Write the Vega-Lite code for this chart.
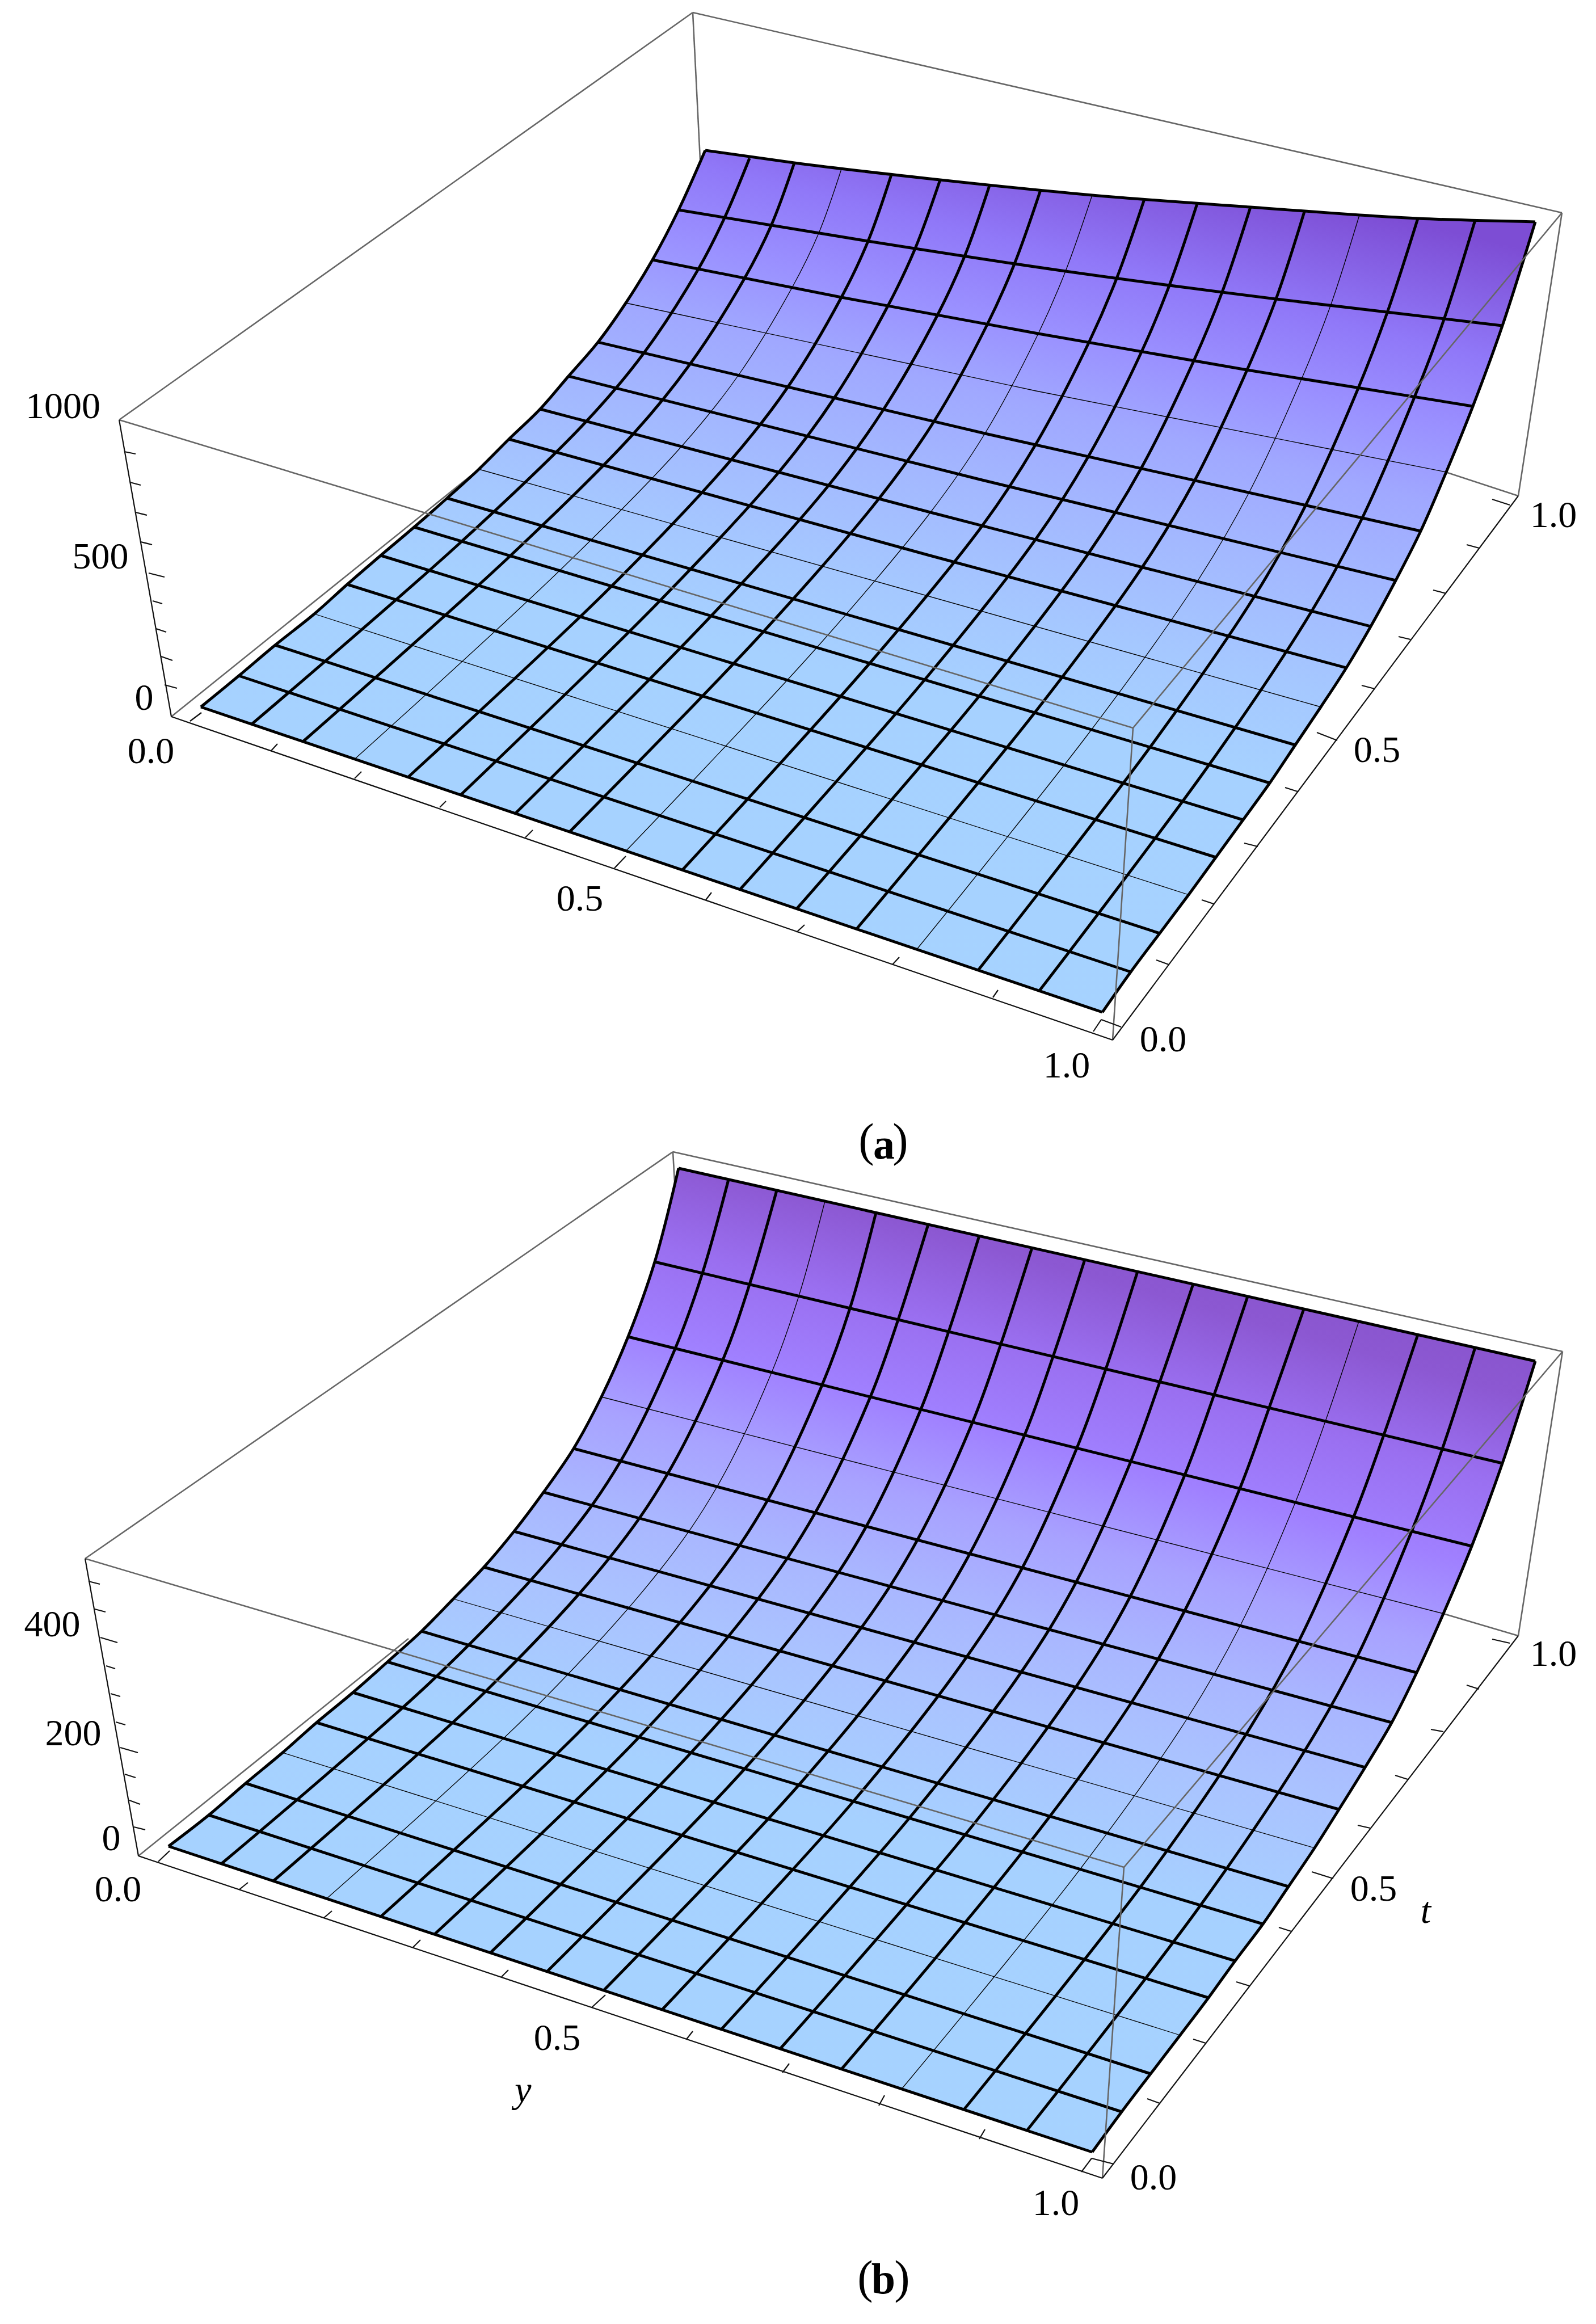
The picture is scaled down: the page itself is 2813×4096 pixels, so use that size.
{"$schema":"https://vega.github.io/schema/vega-lite/v6.json","width":2813,"height":4096,"padding":0,"autosize":{"type":"none"},"background":"white","config":{"view":{"stroke":null}},
"datasets":{
"grayBack":[
{"x":210,"y":740,"x2":1221,"y2":22},{"x":1221,"y":22,"x2":2753,"y2":375},{"x":1221,"y":22,"x2":1234,"y2":281},{"x":2753,"y":375,"x2":2676,"y2":874},{"x":302,"y":1263,"x2":844,"y2":827},{"x":2676,"y":874,"x2":2530,"y2":826},
{"x":150,"y":2747,"x2":1186,"y2":2030},{"x":1186,"y":2030,"x2":2754,"y2":2382},{"x":1186,"y":2030,"x2":1190,"y2":2100},{"x":2754,"y":2382,"x2":2676,"y2":2883},{"x":244,"y":3271,"x2":720,"y2":2888},{"x":2676,"y":2883,"x2":2530,"y2":2840}],
"grayFront":[
{"x":210,"y":740,"x2":1997,"y2":1283},{"x":1997,"y":1283,"x2":2753,"y2":375},{"x":1997,"y":1283,"x2":1961,"y2":1833},
{"x":150,"y":2747,"x2":1981,"y2":3291},{"x":1981,"y":3291,"x2":2754,"y2":2382},{"x":1981,"y":3291,"x2":1943,"y2":3839}],
"axes":[
{"x":210,"y":740,"x2":302,"y2":1263},{"x":302,"y":1263,"x2":1961,"y2":1833},{"x":1961,"y":1833,"x2":2676,"y2":874},
{"x":219,"y":796,"x2":239,"y2":800},{"x":229,"y":850,"x2":248,"y2":855},{"x":239,"y":903,"x2":259,"y2":908},{"x":248,"y":955,"x2":268,"y2":960},{"x":262,"y":1010,"x2":290,"y2":1017},{"x":269,"y":1059,"x2":286,"y2":1064},{"x":275,"y":1108,"x2":293,"y2":1114},{"x":284,"y":1157,"x2":304,"y2":1164},{"x":290,"y":1207,"x2":312,"y2":1213},
{"x":335,"y":1271,"x2":355,"y2":1256},{"x":478,"y":1323,"x2":489,"y2":1311},{"x":625,"y":1372,"x2":637,"y2":1360},{"x":775,"y":1423,"x2":786,"y2":1412},{"x":926,"y":1476,"x2":939,"y2":1463},{"x":1083,"y":1530,"x2":1103,"y2":1509},{"x":1244,"y":1586,"x2":1254,"y2":1573},{"x":1404,"y":1643,"x2":1418,"y2":1630},{"x":1573,"y":1700,"x2":1585,"y2":1687},{"x":1750,"y":1758,"x2":1759,"y2":1745},{"x":1927,"y":1818,"x2":1941,"y2":1797},
{"x":1976,"y":1810,"x2":1941,"y2":1797},{"x":2060,"y":1700,"x2":2038,"y2":1692},{"x":2139,"y":1593,"x2":2118,"y2":1586},{"x":2217,"y":1492,"x2":2193,"y2":1486},{"x":2287,"y":1395,"x2":2265,"y2":1388},{"x":2357,"y":1305,"x2":2321,"y2":1291},{"x":2423,"y":1214,"x2":2400,"y2":1208},{"x":2486,"y":1127,"x2":2465,"y2":1122},{"x":2549,"y":1046,"x2":2526,"y2":1040},{"x":2607,"y":966,"x2":2585,"y2":960},{"x":2661,"y":890,"x2":2630,"y2":880},
{"x":150,"y":2747,"x2":244,"y2":3271},{"x":244,"y":3271,"x2":1943,"y2":3839},{"x":1943,"y":3839,"x2":2676,"y2":2883},
{"x":156,"y":2787,"x2":176,"y2":2792},{"x":167,"y":2836,"x2":186,"y2":2841},{"x":177,"y":2886,"x2":207,"y2":2895},{"x":187,"y":2936,"x2":203,"y2":2941},{"x":195,"y":2985,"x2":212,"y2":2990},{"x":204,"y":3035,"x2":221,"y2":3040},{"x":212,"y":3080,"x2":243,"y2":3089},{"x":220,"y":3127,"x2":239,"y2":3133},{"x":228,"y":3173,"x2":247,"y2":3180},{"x":236,"y":3220,"x2":256,"y2":3225},
{"x":279,"y":3281,"x2":299,"y2":3262},{"x":422,"y":3330,"x2":437,"y2":3318},{"x":571,"y":3380,"x2":585,"y2":3368},{"x":728,"y":3432,"x2":741,"y2":3419},{"x":884,"y":3484,"x2":896,"y2":3472},{"x":1043,"y":3538,"x2":1067,"y2":3516},{"x":1210,"y":3594,"x2":1221,"y2":3580},{"x":1379,"y":3653,"x2":1391,"y2":3637},{"x":1549,"y":3711,"x2":1559,"y2":3693},{"x":1726,"y":3770,"x2":1736,"y2":3753},{"x":1906,"y":3828,"x2":1924,"y2":3804},
{"x":1963,"y":3814,"x2":1924,"y2":3804},{"x":2044,"y":3707,"x2":2022,"y2":3699},{"x":2125,"y":3601,"x2":2103,"y2":3594},{"x":2202,"y":3500,"x2":2179,"y2":3493},{"x":2276,"y":3404,"x2":2254,"y2":3397},{"x":2350,"y":3311,"x2":2312,"y2":3299},{"x":2415,"y":3222,"x2":2393,"y2":3217},{"x":2481,"y":3136,"x2":2459,"y2":3129},{"x":2544,"y":3052,"x2":2522,"y2":3048},{"x":2607,"y":2977,"x2":2585,"y2":2970},{"x":2661,"y":2896,"x2":2630,"y2":2889}],
"outline":[
{"p":"a","n":0,"x":354,"y":1246},{"p":"a","n":1,"x":1943,"y":1784},{"p":"a","n":2,"x":1993,"y":1713},{"p":"a","n":3,"x":2044,"y":1645},{"p":"a","n":4,"x":2095,"y":1577},{"p":"a","n":5,"x":2143,"y":1511},{"p":"a","n":6,"x":2191,"y":1445},{"p":"a","n":7,"x":2238,"y":1380},{"p":"a","n":8,"x":2283,"y":1313},{"p":"a","n":9,"x":2328,"y":1246},{"p":"a","n":10,"x":2373,"y":1177},{"p":"a","n":11,"x":2416,"y":1104},{"p":"a","n":12,"x":2460,"y":1023},{"p":"a","n":13,"x":2504,"y":936},{"p":"a","n":14,"x":2549,"y":832},{"p":"a","n":15,"x":2596,"y":716},{"p":"a","n":16,"x":2648,"y":574},{"p":"a","n":17,"x":2706,"y":391},
{"p":"a","n":18,"x":2499,"y":385},{"p":"a","n":19,"x":2299,"y":373},{"p":"a","n":20,"x":2110,"y":359},{"p":"a","n":21,"x":1925,"y":344},{"p":"a","n":22,"x":1744,"y":327},{"p":"a","n":23,"x":1571,"y":308},{"p":"a","n":24,"x":1400,"y":287},{"p":"a","n":25,"x":1243,"y":265},
{"p":"a","n":26,"x":1196,"y":370},{"p":"a","n":27,"x":1150,"y":458},{"p":"a","n":28,"x":1103,"y":534},{"p":"a","n":29,"x":1054,"y":603},{"p":"a","n":30,"x":1002,"y":663},{"p":"a","n":31,"x":952,"y":721},{"p":"a","n":32,"x":897,"y":774},{"p":"a","n":33,"x":844,"y":827},{"p":"a","n":34,"x":788,"y":878},{"p":"a","n":35,"x":730,"y":929},{"p":"a","n":36,"x":671,"y":979},{"p":"a","n":37,"x":612,"y":1030},{"p":"a","n":38,"x":554,"y":1082},{"p":"a","n":39,"x":485,"y":1137},{"p":"a","n":40,"x":421,"y":1191},
{"p":"b","n":0,"x":297,"y":3254},{"p":"b","n":1,"x":1925,"y":3793},{"p":"b","n":2,"x":1977,"y":3722},{"p":"b","n":3,"x":2028,"y":3655},{"p":"b","n":4,"x":2080,"y":3587},{"p":"b","n":5,"x":2130,"y":3521},{"p":"b","n":6,"x":2177,"y":3456},{"p":"b","n":7,"x":2226,"y":3391},{"p":"b","n":8,"x":2271,"y":3325},{"p":"b","n":9,"x":2317,"y":3257},{"p":"b","n":10,"x":2360,"y":3189},{"p":"b","n":11,"x":2406,"y":3115},{"p":"b","n":12,"x":2453,"y":3036},{"p":"b","n":13,"x":2497,"y":2948},{"p":"b","n":14,"x":2544,"y":2844},{"p":"b","n":15,"x":2594,"y":2725},{"p":"b","n":16,"x":2648,"y":2579},{"p":"b","n":17,"x":2706,"y":2399},{"p":"b","n":18,"x":1196,"y":2059},
{"p":"b","n":19,"x":1154,"y":2224},{"p":"b","n":20,"x":1107,"y":2356},{"p":"b","n":21,"x":1060,"y":2462},{"p":"b","n":22,"x":1011,"y":2553},{"p":"b","n":23,"x":958,"y":2630},{"p":"b","n":24,"x":906,"y":2699},{"p":"b","n":25,"x":853,"y":2762},{"p":"b","n":26,"x":799,"y":2818},{"p":"b","n":27,"x":743,"y":2875},{"p":"b","n":28,"x":683,"y":2929},{"p":"b","n":29,"x":622,"y":2983},{"p":"b","n":30,"x":558,"y":3036},{"p":"b","n":31,"x":498,"y":3089},{"p":"b","n":32,"x":433,"y":3143},{"p":"b","n":33,"x":368,"y":3199}],
"cross":[
{"p":"a","j":0,"n":0,"x":354,"y":1246},{"p":"a","j":0,"n":1,"x":1943,"y":1784},
{"p":"a","j":1,"n":0,"x":421,"y":1191},{"p":"a","j":1,"n":1,"x":1993,"y":1713},
{"p":"a","j":2,"n":0,"x":485,"y":1137},{"p":"a","j":2,"n":1,"x":2044,"y":1645},
{"p":"a","j":3,"n":0,"x":554,"y":1082},{"p":"a","j":3,"n":1,"x":2095,"y":1577},
{"p":"a","j":4,"n":0,"x":612,"y":1030},{"p":"a","j":4,"n":1,"x":2143,"y":1511},
{"p":"a","j":5,"n":0,"x":671,"y":979},{"p":"a","j":5,"n":1,"x":2191,"y":1445},
{"p":"a","j":6,"n":0,"x":730,"y":929},{"p":"a","j":6,"n":1,"x":2238,"y":1380},
{"p":"a","j":7,"n":0,"x":788,"y":878},{"p":"a","j":7,"n":1,"x":2283,"y":1313},
{"p":"a","j":8,"n":0,"x":844,"y":827},{"p":"a","j":8,"n":1,"x":2328,"y":1246},
{"p":"a","j":9,"n":0,"x":897,"y":774},{"p":"a","j":9,"n":1,"x":1635,"y":978},{"p":"a","j":9,"n":2,"x":2373,"y":1177},
{"p":"a","j":10,"n":0,"x":952,"y":721},{"p":"a","j":10,"n":1,"x":1640,"y":903},{"p":"a","j":10,"n":2,"x":2416,"y":1104},
{"p":"a","j":11,"n":0,"x":1002,"y":663},{"p":"a","j":11,"n":1,"x":1731,"y":846},{"p":"a","j":11,"n":2,"x":2460,"y":1023},
{"p":"a","j":12,"n":0,"x":1054,"y":603},{"p":"a","j":12,"n":1,"x":1736,"y":764},{"p":"a","j":12,"n":2,"x":2504,"y":936},
{"p":"a","j":13,"n":0,"x":1103,"y":534},{"p":"a","j":13,"n":1,"x":1826,"y":689},{"p":"a","j":13,"n":2,"x":2549,"y":832},
{"p":"a","j":14,"n":0,"x":1150,"y":458},{"p":"a","j":14,"n":1,"x":1483,"y":524},{"p":"a","j":14,"n":2,"x":1830,"y":588},{"p":"a","j":14,"n":3,"x":2198,"y":652},{"p":"a","j":14,"n":4,"x":2596,"y":716},
{"p":"a","j":15,"n":0,"x":1196,"y":370},{"p":"a","j":15,"n":1,"x":1530,"y":425},{"p":"a","j":15,"n":2,"x":1878,"y":478},{"p":"a","j":15,"n":3,"x":2249,"y":527},{"p":"a","j":15,"n":4,"x":2648,"y":574},
{"p":"a","j":16,"n":0,"x":1243,"y":265},{"p":"a","j":16,"n":1,"x":1400,"y":287},{"p":"a","j":16,"n":2,"x":1657,"y":317},{"p":"a","j":16,"n":3,"x":1925,"y":344},{"p":"a","j":16,"n":4,"x":2204,"y":365},{"p":"a","j":16,"n":5,"x":2499,"y":385},{"p":"a","j":16,"n":6,"x":2706,"y":391},
{"p":"b","j":0,"n":0,"x":297,"y":3254},{"p":"b","j":0,"n":1,"x":1925,"y":3793},
{"p":"b","j":1,"n":0,"x":368,"y":3199},{"p":"b","j":1,"n":1,"x":1977,"y":3722},
{"p":"b","j":2,"n":0,"x":433,"y":3143},{"p":"b","j":2,"n":1,"x":2028,"y":3655},
{"p":"b","j":3,"n":0,"x":498,"y":3089},{"p":"b","j":3,"n":1,"x":2080,"y":3587},
{"p":"b","j":4,"n":0,"x":558,"y":3036},{"p":"b","j":4,"n":1,"x":2130,"y":3521},
{"p":"b","j":5,"n":0,"x":622,"y":2983},{"p":"b","j":5,"n":1,"x":2177,"y":3456},
{"p":"b","j":6,"n":0,"x":683,"y":2929},{"p":"b","j":6,"n":1,"x":2226,"y":3391},
{"p":"b","j":7,"n":0,"x":743,"y":2875},{"p":"b","j":7,"n":1,"x":2271,"y":3325},
{"p":"b","j":8,"n":0,"x":799,"y":2818},{"p":"b","j":8,"n":1,"x":2317,"y":3257},
{"p":"b","j":9,"n":0,"x":853,"y":2762},{"p":"b","j":9,"n":1,"x":2360,"y":3189},
{"p":"b","j":10,"n":0,"x":906,"y":2699},{"p":"b","j":10,"n":1,"x":2406,"y":3115},
{"p":"b","j":11,"n":0,"x":958,"y":2630},{"p":"b","j":11,"n":1,"x":2453,"y":3036},
{"p":"b","j":12,"n":0,"x":1011,"y":2553},{"p":"b","j":12,"n":1,"x":2497,"y":2948},
{"p":"b","j":13,"n":0,"x":1060,"y":2462},{"p":"b","j":13,"n":1,"x":2544,"y":2844},
{"p":"b","j":14,"n":0,"x":1107,"y":2356},{"p":"b","j":14,"n":1,"x":2594,"y":2725},
{"p":"b","j":15,"n":0,"x":1154,"y":2224},{"p":"b","j":15,"n":1,"x":2648,"y":2579},
{"p":"b","j":16,"n":0,"x":1196,"y":2059},{"p":"b","j":16,"n":1,"x":2706,"y":2399}],
"along":[
{"p":"a","i":0,"j":0,"x":354,"y":1246},{"p":"a","i":0,"j":1,"x":421,"y":1191},{"p":"a","i":0,"j":2,"x":485,"y":1137},{"p":"a","i":0,"j":3,"x":554,"y":1082},{"p":"a","i":0,"j":4,"x":612,"y":1030},{"p":"a","i":0,"j":5,"x":671,"y":979},{"p":"a","i":0,"j":6,"x":730,"y":929},{"p":"a","i":0,"j":7,"x":788,"y":878},{"p":"a","i":0,"j":8,"x":844,"y":827},{"p":"a","i":0,"j":9,"x":897,"y":774},{"p":"a","i":0,"j":10,"x":952,"y":721},{"p":"a","i":0,"j":11,"x":1002,"y":663},{"p":"a","i":0,"j":12,"x":1054,"y":603},{"p":"a","i":0,"j":13,"x":1103,"y":534},{"p":"a","i":0,"j":14,"x":1150,"y":458},{"p":"a","i":0,"j":15,"x":1196,"y":370},{"p":"a","i":0,"j":16,"x":1243,"y":265},
{"p":"a","i":16,"j":0,"x":1943,"y":1784},{"p":"a","i":16,"j":1,"x":1993,"y":1713},{"p":"a","i":16,"j":2,"x":2044,"y":1645},{"p":"a","i":16,"j":3,"x":2095,"y":1577},{"p":"a","i":16,"j":4,"x":2143,"y":1511},{"p":"a","i":16,"j":5,"x":2191,"y":1445},{"p":"a","i":16,"j":6,"x":2238,"y":1380},{"p":"a","i":16,"j":7,"x":2283,"y":1313},{"p":"a","i":16,"j":8,"x":2328,"y":1246},{"p":"a","i":16,"j":9,"x":2373,"y":1177},{"p":"a","i":16,"j":10,"x":2416,"y":1104},{"p":"a","i":16,"j":11,"x":2460,"y":1023},{"p":"a","i":16,"j":12,"x":2504,"y":936},{"p":"a","i":16,"j":13,"x":2549,"y":832},{"p":"a","i":16,"j":14,"x":2596,"y":716},{"p":"a","i":16,"j":15,"x":2648,"y":574},{"p":"a","i":16,"j":16,"x":2706,"y":391},
{"p":"a","i":1,"j":0,"x":444,"y":1276},{"p":"a","i":1,"j":6,"x":814,"y":954},{"p":"a","i":1,"j":10,"x":1034,"y":742},{"p":"a","i":1,"j":12,"x":1135,"y":622},{"p":"a","i":1,"j":14,"x":1231,"y":474},{"p":"a","i":1,"j":15,"x":1277,"y":384},{"p":"a","i":1,"j":16,"x":1321,"y":279},
{"p":"a","i":2,"j":0,"x":534,"y":1307},{"p":"a","i":2,"j":6,"x":899,"y":980},{"p":"a","i":2,"j":10,"x":1116,"y":765},{"p":"a","i":2,"j":12,"x":1216,"y":642},{"p":"a","i":2,"j":14,"x":1312,"y":491},{"p":"a","i":2,"j":15,"x":1359,"y":398},{"p":"a","i":2,"j":16,"x":1400,"y":287},
{"p":"a","i":3,"j":0,"x":625,"y":1338},{"p":"a","i":3,"j":6,"x":986,"y":1006},{"p":"a","i":3,"j":10,"x":1201,"y":787},{"p":"a","i":3,"j":12,"x":1301,"y":662},{"p":"a","i":3,"j":14,"x":1396,"y":507},{"p":"a","i":3,"j":15,"x":1443,"y":411},{"p":"a","i":3,"j":16,"x":1483,"y":298},
{"p":"a","i":4,"j":0,"x":719,"y":1370},{"p":"a","i":4,"j":6,"x":1077,"y":1034},{"p":"a","i":4,"j":10,"x":1289,"y":810},{"p":"a","i":4,"j":12,"x":1388,"y":683},{"p":"a","i":4,"j":14,"x":1483,"y":524},{"p":"a","i":4,"j":15,"x":1530,"y":425},{"p":"a","i":4,"j":16,"x":1571,"y":308},
{"p":"a","i":5,"j":0,"x":812,"y":1401},{"p":"a","i":5,"j":6,"x":1163,"y":1059},{"p":"a","i":5,"j":10,"x":1372,"y":833},{"p":"a","i":5,"j":12,"x":1470,"y":702},{"p":"a","i":5,"j":14,"x":1565,"y":539},{"p":"a","i":5,"j":15,"x":1613,"y":438},{"p":"a","i":5,"j":16,"x":1657,"y":317},
{"p":"a","i":6,"j":0,"x":908,"y":1434},{"p":"a","i":6,"j":6,"x":1253,"y":1086},{"p":"a","i":6,"j":10,"x":1460,"y":856},{"p":"a","i":6,"j":12,"x":1557,"y":722},{"p":"a","i":6,"j":14,"x":1652,"y":556},{"p":"a","i":6,"j":15,"x":1700,"y":452},{"p":"a","i":6,"j":16,"x":1744,"y":327},
{"p":"a","i":7,"j":0,"x":1004,"y":1466},{"p":"a","i":7,"j":6,"x":1345,"y":1114},{"p":"a","i":7,"j":10,"x":1549,"y":879},{"p":"a","i":7,"j":12,"x":1646,"y":743},{"p":"a","i":7,"j":14,"x":1740,"y":572},{"p":"a","i":7,"j":15,"x":1788,"y":465},{"p":"a","i":7,"j":16,"x":1834,"y":335},
{"p":"a","i":8,"j":0,"x":1103,"y":1500},{"p":"a","i":8,"j":6,"x":1439,"y":1142},{"p":"a","i":8,"j":10,"x":1640,"y":903},{"p":"a","i":8,"j":12,"x":1736,"y":764},{"p":"a","i":8,"j":14,"x":1830,"y":588},{"p":"a","i":8,"j":15,"x":1878,"y":478},{"p":"a","i":8,"j":16,"x":1925,"y":344},
{"p":"a","i":9,"j":0,"x":1203,"y":1533},{"p":"a","i":9,"j":6,"x":1532,"y":1170},{"p":"a","i":9,"j":10,"x":1731,"y":927},{"p":"a","i":9,"j":12,"x":1825,"y":784},{"p":"a","i":9,"j":14,"x":1919,"y":604},{"p":"a","i":9,"j":15,"x":1968,"y":491},{"p":"a","i":9,"j":16,"x":2017,"y":351},
{"p":"a","i":10,"j":0,"x":1304,"y":1568},{"p":"a","i":10,"j":6,"x":1629,"y":1199},{"p":"a","i":10,"j":10,"x":1825,"y":951},{"p":"a","i":10,"j":12,"x":1918,"y":805},{"p":"a","i":10,"j":14,"x":2012,"y":620},{"p":"a","i":10,"j":15,"x":2061,"y":503},{"p":"a","i":10,"j":16,"x":2110,"y":359},
{"p":"a","i":11,"j":0,"x":1404,"y":1602},{"p":"a","i":11,"j":6,"x":1725,"y":1228},{"p":"a","i":11,"j":10,"x":1918,"y":976},{"p":"a","i":11,"j":12,"x":2011,"y":826},{"p":"a","i":11,"j":14,"x":2104,"y":636},{"p":"a","i":11,"j":15,"x":2154,"y":515},{"p":"a","i":11,"j":16,"x":2204,"y":365},
{"p":"a","i":12,"j":0,"x":1510,"y":1637},{"p":"a","i":12,"j":6,"x":1823,"y":1257},{"p":"a","i":12,"j":10,"x":2013,"y":1000},{"p":"a","i":12,"j":12,"x":2105,"y":848},{"p":"a","i":12,"j":14,"x":2198,"y":652},{"p":"a","i":12,"j":15,"x":2249,"y":527},{"p":"a","i":12,"j":16,"x":2299,"y":373},
{"p":"a","i":13,"j":0,"x":1616,"y":1673},{"p":"a","i":13,"j":6,"x":1923,"y":1287},{"p":"a","i":13,"j":10,"x":2110,"y":1025},{"p":"a","i":13,"j":12,"x":2201,"y":869},{"p":"a","i":13,"j":14,"x":2294,"y":668},{"p":"a","i":13,"j":15,"x":2345,"y":539},{"p":"a","i":13,"j":16,"x":2396,"y":379},
{"p":"a","i":14,"j":0,"x":1724,"y":1710},{"p":"a","i":14,"j":6,"x":2027,"y":1317},{"p":"a","i":14,"j":10,"x":2211,"y":1051},{"p":"a","i":14,"j":12,"x":2301,"y":891},{"p":"a","i":14,"j":14,"x":2394,"y":684},{"p":"a","i":14,"j":15,"x":2445,"y":551},{"p":"a","i":14,"j":16,"x":2499,"y":385},
{"p":"a","i":15,"j":0,"x":1832,"y":1746},{"p":"a","i":15,"j":6,"x":2131,"y":1348},{"p":"a","i":15,"j":10,"x":2312,"y":1077},{"p":"a","i":15,"j":12,"x":2401,"y":913},{"p":"a","i":15,"j":14,"x":2493,"y":700},{"p":"a","i":15,"j":15,"x":2545,"y":563},{"p":"a","i":15,"j":16,"x":2600,"y":388},
{"p":"b","i":0,"j":0,"x":297,"y":3254},{"p":"b","i":0,"j":1,"x":368,"y":3199},{"p":"b","i":0,"j":2,"x":433,"y":3143},{"p":"b","i":0,"j":3,"x":498,"y":3089},{"p":"b","i":0,"j":4,"x":558,"y":3036},{"p":"b","i":0,"j":5,"x":622,"y":2983},{"p":"b","i":0,"j":6,"x":683,"y":2929},{"p":"b","i":0,"j":7,"x":743,"y":2875},{"p":"b","i":0,"j":8,"x":799,"y":2818},{"p":"b","i":0,"j":9,"x":853,"y":2762},{"p":"b","i":0,"j":10,"x":906,"y":2699},{"p":"b","i":0,"j":11,"x":958,"y":2630},{"p":"b","i":0,"j":12,"x":1011,"y":2553},{"p":"b","i":0,"j":13,"x":1060,"y":2462},{"p":"b","i":0,"j":14,"x":1107,"y":2356},{"p":"b","i":0,"j":15,"x":1154,"y":2224},{"p":"b","i":0,"j":16,"x":1196,"y":2059},
{"p":"b","i":16,"j":0,"x":1925,"y":3793},{"p":"b","i":16,"j":1,"x":1977,"y":3722},{"p":"b","i":16,"j":2,"x":2028,"y":3655},{"p":"b","i":16,"j":3,"x":2080,"y":3587},{"p":"b","i":16,"j":4,"x":2130,"y":3521},{"p":"b","i":16,"j":5,"x":2177,"y":3456},{"p":"b","i":16,"j":6,"x":2226,"y":3391},{"p":"b","i":16,"j":7,"x":2271,"y":3325},{"p":"b","i":16,"j":8,"x":2317,"y":3257},{"p":"b","i":16,"j":9,"x":2360,"y":3189},{"p":"b","i":16,"j":10,"x":2406,"y":3115},{"p":"b","i":16,"j":11,"x":2453,"y":3036},{"p":"b","i":16,"j":12,"x":2497,"y":2948},{"p":"b","i":16,"j":13,"x":2544,"y":2844},{"p":"b","i":16,"j":14,"x":2594,"y":2725},{"p":"b","i":16,"j":15,"x":2648,"y":2579},{"p":"b","i":16,"j":16,"x":2706,"y":2399},
{"p":"b","i":1,"j":0,"x":390,"y":3285},{"p":"b","i":1,"j":6,"x":769,"y":2955},{"p":"b","i":1,"j":10,"x":990,"y":2722},{"p":"b","i":1,"j":12,"x":1094,"y":2575},{"p":"b","i":1,"j":14,"x":1190,"y":2377},{"p":"b","i":1,"j":15,"x":1238,"y":2244},{"p":"b","i":1,"j":16,"x":1284,"y":2079},
{"p":"b","i":2,"j":0,"x":482,"y":3315},{"p":"b","i":2,"j":6,"x":856,"y":2981},{"p":"b","i":2,"j":10,"x":1074,"y":2746},{"p":"b","i":2,"j":12,"x":1177,"y":2597},{"p":"b","i":2,"j":14,"x":1274,"y":2397},{"p":"b","i":2,"j":15,"x":1321,"y":2264},{"p":"b","i":2,"j":16,"x":1369,"y":2098},
{"p":"b","i":3,"j":0,"x":576,"y":3346},{"p":"b","i":3,"j":6,"x":945,"y":3008},{"p":"b","i":3,"j":10,"x":1161,"y":2770},{"p":"b","i":3,"j":12,"x":1264,"y":2620},{"p":"b","i":3,"j":14,"x":1360,"y":2419},{"p":"b","i":3,"j":15,"x":1408,"y":2284},{"p":"b","i":3,"j":16,"x":1454,"y":2117},
{"p":"b","i":4,"j":0,"x":671,"y":3378},{"p":"b","i":4,"j":6,"x":1038,"y":3035},{"p":"b","i":4,"j":10,"x":1251,"y":2795},{"p":"b","i":4,"j":12,"x":1353,"y":2644},{"p":"b","i":4,"j":14,"x":1449,"y":2441},{"p":"b","i":4,"j":15,"x":1498,"y":2306},{"p":"b","i":4,"j":16,"x":1544,"y":2137},
{"p":"b","i":5,"j":0,"x":766,"y":3409},{"p":"b","i":5,"j":6,"x":1126,"y":3062},{"p":"b","i":5,"j":10,"x":1336,"y":2818},{"p":"b","i":5,"j":12,"x":1437,"y":2666},{"p":"b","i":5,"j":14,"x":1534,"y":2462},{"p":"b","i":5,"j":15,"x":1583,"y":2326},{"p":"b","i":5,"j":16,"x":1636,"y":2158},
{"p":"b","i":6,"j":0,"x":864,"y":3442},{"p":"b","i":6,"j":6,"x":1218,"y":3089},{"p":"b","i":6,"j":10,"x":1427,"y":2843},{"p":"b","i":6,"j":12,"x":1527,"y":2690},{"p":"b","i":6,"j":14,"x":1623,"y":2484},{"p":"b","i":6,"j":15,"x":1672,"y":2347},{"p":"b","i":6,"j":16,"x":1726,"y":2178},
{"p":"b","i":7,"j":0,"x":964,"y":3475},{"p":"b","i":7,"j":6,"x":1313,"y":3117},{"p":"b","i":7,"j":10,"x":1518,"y":2869},{"p":"b","i":7,"j":12,"x":1617,"y":2714},{"p":"b","i":7,"j":14,"x":1714,"y":2507},{"p":"b","i":7,"j":15,"x":1764,"y":2369},{"p":"b","i":7,"j":16,"x":1819,"y":2199},
{"p":"b","i":8,"j":0,"x":1064,"y":3508},{"p":"b","i":8,"j":6,"x":1408,"y":3146},{"p":"b","i":8,"j":10,"x":1611,"y":2895},{"p":"b","i":8,"j":12,"x":1709,"y":2739},{"p":"b","i":8,"j":14,"x":1806,"y":2529},{"p":"b","i":8,"j":15,"x":1856,"y":2391},{"p":"b","i":8,"j":16,"x":1912,"y":2220},
{"p":"b","i":9,"j":0,"x":1167,"y":3542},{"p":"b","i":9,"j":6,"x":1504,"y":3175},{"p":"b","i":9,"j":10,"x":1704,"y":2920},{"p":"b","i":9,"j":12,"x":1802,"y":2763},{"p":"b","i":9,"j":14,"x":1898,"y":2552},{"p":"b","i":9,"j":15,"x":1949,"y":2413},{"p":"b","i":9,"j":16,"x":2005,"y":2241},
{"p":"b","i":10,"j":0,"x":1271,"y":3577},{"p":"b","i":10,"j":6,"x":1603,"y":3204},{"p":"b","i":10,"j":10,"x":1800,"y":2947},{"p":"b","i":10,"j":12,"x":1897,"y":2788},{"p":"b","i":10,"j":14,"x":1993,"y":2576},{"p":"b","i":10,"j":15,"x":2044,"y":2436},{"p":"b","i":10,"j":16,"x":2103,"y":2263},
{"p":"b","i":11,"j":0,"x":1375,"y":3611},{"p":"b","i":11,"j":6,"x":1701,"y":3234},{"p":"b","i":11,"j":10,"x":1896,"y":2974},{"p":"b","i":11,"j":12,"x":1992,"y":2814},{"p":"b","i":11,"j":14,"x":2088,"y":2600},{"p":"b","i":11,"j":15,"x":2140,"y":2458},{"p":"b","i":11,"j":16,"x":2199,"y":2285},
{"p":"b","i":12,"j":0,"x":1483,"y":3647},{"p":"b","i":12,"j":6,"x":1802,"y":3264},{"p":"b","i":12,"j":10,"x":1994,"y":3001},{"p":"b","i":12,"j":12,"x":2088,"y":2839},{"p":"b","i":12,"j":14,"x":2185,"y":2624},{"p":"b","i":12,"j":15,"x":2237,"y":2481},{"p":"b","i":12,"j":16,"x":2298,"y":2307},
{"p":"b","i":13,"j":0,"x":1589,"y":3682},{"p":"b","i":13,"j":6,"x":1904,"y":3294},{"p":"b","i":13,"j":10,"x":2093,"y":3028},{"p":"b","i":13,"j":12,"x":2186,"y":2865},{"p":"b","i":13,"j":14,"x":2283,"y":2648},{"p":"b","i":13,"j":15,"x":2336,"y":2505},{"p":"b","i":13,"j":16,"x":2395,"y":2329},
{"p":"b","i":14,"j":0,"x":1699,"y":3718},{"p":"b","i":14,"j":6,"x":2010,"y":3326},{"p":"b","i":14,"j":10,"x":2196,"y":3057},{"p":"b","i":14,"j":12,"x":2289,"y":2893},{"p":"b","i":14,"j":14,"x":2386,"y":2673},{"p":"b","i":14,"j":15,"x":2439,"y":2529},{"p":"b","i":14,"j":16,"x":2499,"y":2352},
{"p":"b","i":15,"j":0,"x":1810,"y":3755},{"p":"b","i":15,"j":6,"x":2116,"y":3358},{"p":"b","i":15,"j":10,"x":2300,"y":3085},{"p":"b","i":15,"j":12,"x":2392,"y":2920},{"p":"b","i":15,"j":14,"x":2488,"y":2699},{"p":"b","i":15,"j":15,"x":2542,"y":2554},{"p":"b","i":15,"j":16,"x":2600,"y":2375}],
"labels":[
{"t":"1000","x":111,"y":717},{"t":"500","x":177,"y":982},{"t":"0","x":254,"y":1231},{"t":"0.0","x":266,"y":1325},{"t":"0.5","x":1022,"y":1585},{"t":"1.0","x":1880,"y":1879},{"t":"0.0","x":2050,"y":1833},{"t":"0.5","x":2427,"y":1323},{"t":"1.0","x":2738,"y":909},
{"t":"400","x":92,"y":2864},{"t":"200","x":129,"y":3056},{"t":"0","x":196,"y":3241},{"t":"0.0","x":208,"y":3331},{"t":"0.5","x":982,"y":3593},{"t":"1.0","x":1861,"y":3884},{"t":"0.0","x":2033,"y":3839},{"t":"0.5","x":2421,"y":3330},{"t":"1.0","x":2738,"y":2916}],
"parens":[{"t":"(","x":1527,"y":2012},{"t":")","x":1587,"y":2012},{"t":"(","x":1525,"y":4016},{"t":")","x":1590,"y":4016}],
"names":[{"t":"y","x":922,"y":3685},{"t":"t","x":2513,"y":3369}],
"captions":[{"t":"a","x":1558,"y":2019},{"t":"b","x":1557,"y":4019}]
},
"encoding":{"x":{"field":"x","type":"quantitative","scale":{"domain":[0,2813]},"axis":null},"y":{"field":"y","type":"quantitative","scale":{"domain":[0,4096],"reverse":true},"axis":null}},
"layer":[
{"data":{"name":"grayBack"},"mark":{"type":"rule","stroke":"#666666","strokeWidth":2.6},"encoding":{"x2":{"field":"x2"},"y2":{"field":"y2"}}},
{"data":{"name":"outline"},"transform":[{"filter":"datum.p=='a'"}],"mark":{"type":"line","strokeWidth":0,"fill":{"gradient":"linear","x1":0.31,"y1":1,"x2":0.69,"y2":0,"stops":[{"offset":0,"color":"#A6D3FF"},{"offset":0.4,"color":"#A6D1FF"},{"offset":0.5,"color":"#A5C8FF"},{"offset":0.62,"color":"#A3B8FF"},{"offset":0.72,"color":"#A0A8FF"},{"offset":0.8,"color":"#9A90FF"},{"offset":0.88,"color":"#9078F8"},{"offset":1,"color":"#7D4DD4"}]}},"encoding":{"order":{"field":"n"}}},
{"data":{"name":"outline"},"transform":[{"filter":"datum.p=='b'"}],"mark":{"type":"line","strokeWidth":0,"fill":{"gradient":"linear","x1":0.3,"y1":1,"x2":0.69,"y2":0,"stops":[{"offset":0,"color":"#A6D3FF"},{"offset":0.36,"color":"#A6D1FF"},{"offset":0.5,"color":"#AAC2FF"},{"offset":0.58,"color":"#A9B6FF"},{"offset":0.66,"color":"#A8A2FF"},{"offset":0.74,"color":"#A080FF"},{"offset":0.82,"color":"#9A6FF0"},{"offset":0.9,"color":"#8C58D2"},{"offset":1,"color":"#8550C8"}]}},"encoding":{"order":{"field":"n"}}},
{"data":{"name":"along"},"mark":{"type":"line","stroke":"black","interpolate":"catmull-rom"},"encoding":{"detail":[{"field":"p"},{"field":"i"}],"order":{"field":"j"},"strokeWidth":{"condition":{"test":"datum.i==3||datum.i==13||(datum.i==8&&datum.p=='a')","value":1.3},"value":5}}},
{"data":{"name":"cross"},"mark":{"type":"line","stroke":"black","interpolate":"monotone"},"encoding":{"detail":[{"field":"p"},{"field":"j"}],"order":{"field":"n"},"strokeWidth":{"condition":{"test":"datum.j==3||datum.j==8||datum.j==13","value":1.3},"value":5}}},
{"data":{"name":"grayFront"},"mark":{"type":"rule","stroke":"#666666","strokeWidth":2.6},"encoding":{"x2":{"field":"x2"},"y2":{"field":"y2"}}},
{"data":{"name":"axes"},"mark":{"type":"rule","stroke":"#111111","strokeWidth":2.2},"encoding":{"x2":{"field":"x2"},"y2":{"field":"y2"}}},
{"data":{"name":"labels"},"mark":{"type":"text","font":"Liberation Serif","fontSize":66,"color":"black","align":"center","baseline":"middle"},"encoding":{"text":{"field":"t"}}},
{"data":{"name":"parens"},"mark":{"type":"text","font":"Liberation Serif","fontSize":82,"color":"black","align":"center","baseline":"middle"},"encoding":{"text":{"field":"t"}}},
{"data":{"name":"names"},"mark":{"type":"text","font":"Liberation Serif","fontStyle":"italic","fontSize":66,"color":"black","align":"center","baseline":"middle"},"encoding":{"text":{"field":"t"}}},
{"data":{"name":"captions"},"mark":{"type":"text","font":"Liberation Serif","fontWeight":"bold","fontSize":76,"color":"black","align":"center","baseline":"middle"},"encoding":{"text":{"field":"t"}}}
]}
